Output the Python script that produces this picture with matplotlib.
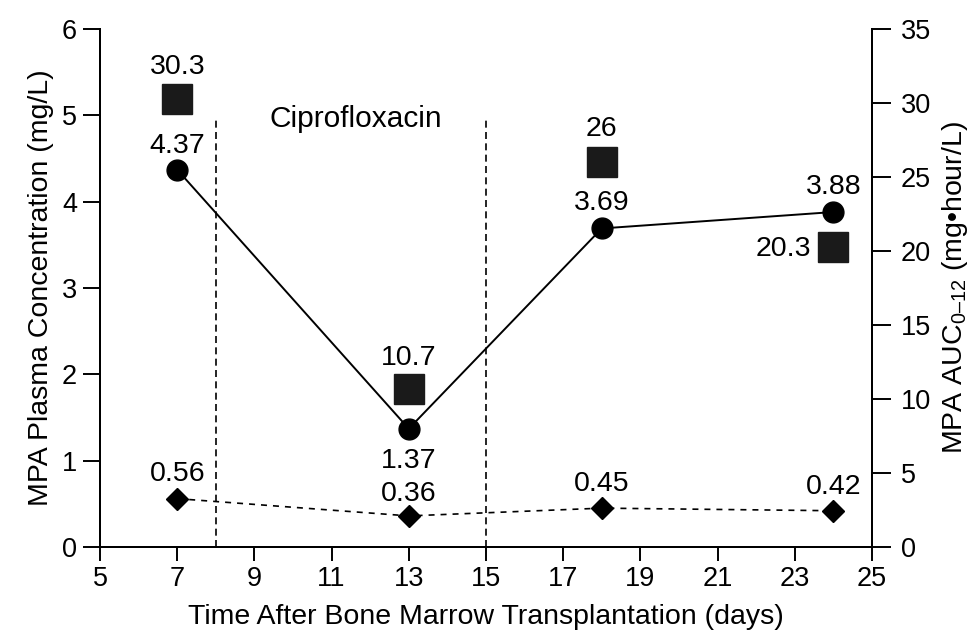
import matplotlib
matplotlib.use("Agg")
import matplotlib.pyplot as plt

plt.rcParams['font.family'] = ['Liberation Sans', 'DejaVu Sans']
plt.rcParams['mathtext.fontset'] = 'custom'
plt.rcParams['mathtext.rm'] = 'Liberation Sans'
plt.rcParams['mathtext.it'] = 'Liberation Sans'

days = [7, 13, 18, 24]
conc = [4.37, 1.37, 3.69, 3.88]
trough = [0.56, 0.36, 0.45, 0.42]
auc = [30.3, 10.7, 26, 20.3]
conc_labels = ["4.37", "1.37", "3.69", "3.88"]
trough_labels = ["0.56", "0.36", "0.45", "0.42"]
auc_labels = ["30.3", "10.7", "26", "20.3"]
cipro_window = [8, 15]
xticks = list(range(5, 26, 2))
yticks_left = list(range(0, 7))
yticks_right = list(range(0, 36, 5))

fig = plt.figure(figsize=(9.77, 6.35), dpi=100)
ax = fig.add_axes([0.1024, 0.1386, 0.790, 0.8157])
ax2 = ax.twinx()

fs_tick = 19.5
fs_ann = 20.5
fs_lab = 20.5

ax.plot(days, conc, color='black', lw=1.4, marker='o', ms=15, zorder=3)
ax.plot(days, trough, color='black', lw=1.2, ls=(0, (3.6, 3.6)), marker='D', ms=11, zorder=3)
ax2.plot(days, auc, ls='none', marker='s', ms=21.5, color='#1a1a1a', zorder=3)

for xv in cipro_window:
    ax.axvline(xv, color='black', lw=1.2, ls=(0, (4.2, 2.6)), ymax=0.824)

ax.text(9.4, 4.865, "Ciprofloxacin", fontsize=21.5, ha='left', va='baseline')

conc_off = [(0, 12), (0, -28), (0, 13), (0, 13)]
for x, y, t, o in zip(days, conc, conc_labels, conc_off):
    ax.annotate(t, (x, y), xytext=o, textcoords='offset points', ha='center', va='baseline', fontsize=fs_ann)
tr_off = [(0, 12.5), (0, 11), (0, 12), (0, 12)]
for x, y, t, o in zip(days, trough, trough_labels, tr_off):
    ax.annotate(t, (x, y), xytext=o, textcoords='offset points', ha='center', va='baseline', fontsize=fs_ann)
auc_off = [(0, 18), (0, 17), (0, 19), (-16, -7)]
auc_ha = ['center', 'center', 'center', 'right']
for x, y, t, o, h in zip(days, auc, auc_labels, auc_off, auc_ha):
    ax2.annotate(t, (x, y), xytext=o, textcoords='offset points', ha=h, va='baseline', fontsize=fs_ann)

ax.set_xlim(5, 25)
ax.set_ylim(0, 6)
ax2.set_ylim(0, 35)
ax.set_xticks(xticks)
ax.set_yticks(yticks_left)
ax2.set_yticks(yticks_right)

for a in (ax, ax2):
    a.spines['top'].set_visible(False)
    for s in a.spines.values():
        s.set_linewidth(1.4)
    a.tick_params(labelsize=fs_tick, width=1.4, direction='out')
ax.tick_params(axis='x', length=10, pad=4)
ax.tick_params(axis='y', length=12.5, pad=4)
ax2.tick_params(axis='y', length=14, pad=7)

ax.set_xlabel("Time After Bone Marrow Transplantation (days)", fontsize=fs_lab, labelpad=8)
ax.set_ylabel("MPA Plasma Concentration (mg/L)", fontsize=fs_lab, labelpad=6)
ax2.set_ylabel("MPA AUC$_{\\mathrm{0\u201312}}$ (mg\u2022hour/L)", fontsize=fs_lab, labelpad=6)

fig.savefig("out.png", dpi=100)
